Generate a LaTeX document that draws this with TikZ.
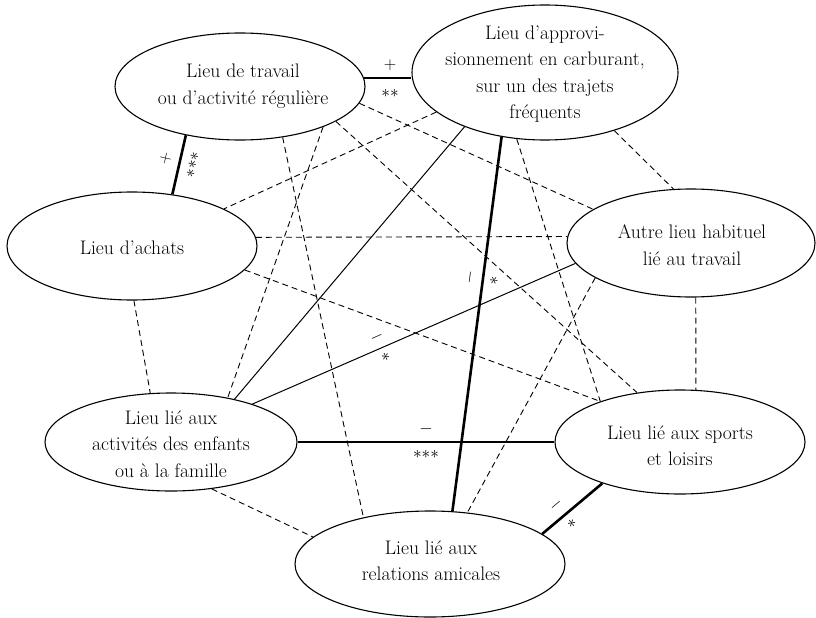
\documentclass[tikz,border=0pt]{standalone}
\usepackage{fontspec}
\usetikzlibrary{shapes.geometric}
\begin{document}
\begin{tikzpicture}[x=1pt,y=-1pt,
  place/.style={ellipse, draw, line width=1.1pt, inner sep=0pt},
  txt/.style={align=center, inner sep=0pt, font=\fontsize{19.6}{26.5}\selectfont},
  dlink/.style={line width=0.9pt, dash pattern=on 6pt off 4pt},
  slink/.style={line width=1pt},
  tlink/.style={line width=2.6pt},
  lab/.style={font=\fontsize{16}{16}\selectfont, inner sep=0pt, sloped},
]
\useasboundingbox (0,0) rectangle (816,618);
% places
\node[place, minimum width=250pt, minimum height=107pt] (T) at (240,86.5) {};
\node[place, minimum width=266pt, minimum height=135pt] (C) at (545,72.5) {};
\node[place, minimum width=250pt, minimum height=108pt] (A) at (132,246) {};
\node[place, minimum width=248pt, minimum height=108pt] (W) at (691,243) {};
\node[place, minimum width=252pt, minimum height=98pt] (E) at (171,442) {};
\node[place, minimum width=250pt, minimum height=104pt] (S) at (680,442) {};
\node[place, minimum width=270pt, minimum height=106pt] (R) at (430,564) {};
% texts
\node[txt] (Tt) at (243,86) {Lieu de travail\\ou d’activité régulière};
\node[txt] (Ct) at (545,74) {Lieu d’approvi-\\sionnement en carburant,\\sur un des trajets\\fréquents};
\node[txt] (At) at (132,248) {Lieu d’achats};
\node[txt] (Wt) at (692,245) {Autre lieu habituel\\lié au travail};
\node[txt] (Et) at (171,444) {Lieu lié aux\\activités des enfants\\ou à la famille};
\node[txt] (St) at (680,446) {Lieu lié aux sports\\et loisirs};
\node[txt] (Rt) at (431,561) {Lieu lié aux\\relations amicales};
% dashed links
\draw[dlink] (T.-8.4) -- (W.161.4);
\draw[dlink] (T.-20.7) -- (S.131.3);
\draw[dlink] (T.-26.2) -- (E.38.7);
\draw[dlink] (T.-50.9) -- (R.145.9);
\draw[dlink] (C.200.9) -- (A.22.6);
\draw[dlink] (C.-40.5) -- (W.108.8);
\draw[dlink] (C.247.2) -- (S.153.4);
\draw[dlink] (A.4.2) -- (W.177.2);
\draw[dlink] (A.-88) -- (E.113.2);
\draw[dlink] (A.-12.6) -- (S.153.4);
\draw[dlink] (W.-85.8) -- (S.73.9);
\draw[dlink] (W.200.6) -- (R.54);
\draw[dlink] (E.-49.1) -- (R.167.9);
% thin solid links
\draw[slink] (C.214.9) -- (E.34.1);
\draw[slink] (W.190.7) -- node[lab,pos=0.6,above=6pt]{$-$} node[lab,pos=0.6,below=6pt]{$\ast$} (E.25.7);
% thick links
\draw[tlink] (T.4.4) -- node[lab,pos=0.55,above=6pt]{$+$} node[lab,pos=0.55,below=10pt]{${\ast}{\ast}$} (C.west |- T.4.4);
\draw[tlink] (T.222.3) -- node[lab,pos=0.45,above=8pt]{$+$} node[lab,pos=0.45,below=8pt]{${\ast}{\ast}{\ast}$} (A.52.8);
\draw[tlink] (C.236.3) -- node[lab,pos=0.38,above=6pt]{$-$} node[lab,pos=0.38,below=6pt]{$\ast$} (R.67.5);
\draw[tlink] (E.0) -- node[lab,pos=0.5,above=6pt]{$-$} node[lab,pos=0.5,below=7pt]{${\ast}{\ast}{\ast}$} (S.180);
\draw[tlink] (S.208.8) -- node[lab,pos=0.63,above=6pt]{$-$} node[lab,pos=0.63,below=6pt]{$\ast$} (R.15.4);
\end{tikzpicture}
\end{document}
